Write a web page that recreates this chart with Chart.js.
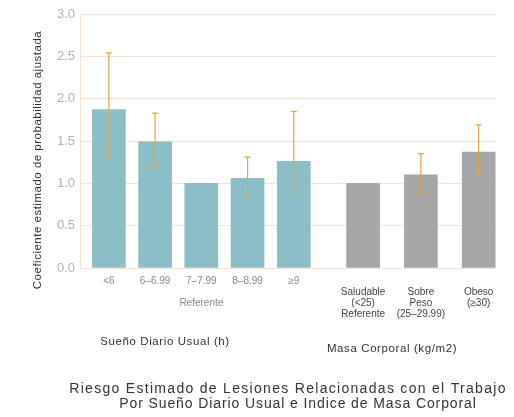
<!DOCTYPE html>
<html>
<head>
<meta charset="utf-8">
<script src="https://cdn.jsdelivr.net/npm/chart.js@4/dist/chart.umd.min.js"></script>
<style>
    body { margin: 0; background: #fff; }
    canvas { display: block; }
</style>
</head>
<body>
<canvas id="chart" width="514" height="417"></canvas>
<script>
// sleep groups (h)
const sleepLabels = [['<6'], ['6–6.99'], ['7–7.99', '', 'Referente'], ['8–8.99'], ['≥9']];
const sleepOR = [1.87, 1.49, 1.00, 1.06, 1.26];
const sleepLow = [1.31, 1.20, null, 0.85, 0.88];
const sleepHigh = [2.54, 1.83, null, 1.31, 1.85];

// body mass groups (kg/m2)
const bmiLabels = [['Saludable', '(<25)', 'Referente'], ['Sobre', 'Peso', '(25–29.99)'], ['Obeso', '(≥30)']];
const bmiOR = [1.00, 1.10, 1.37];
const bmiLow = [null, 0.88, 1.10];
const bmiHigh = [null, 1.35, 1.69];

const yTicks = [0, 0.5, 1.0, 1.5, 2.0, 2.5, 3.0];

const yTitle = 'Coeficiente estimado de probabilidad ajustada';
const sleepGroup = 'Sueño Diario Usual (h)';
const bmiGroup = 'Masa Corporal (kg/m2)';
const titleLines = ['Riesgo Estimado de Lesiones Relacionadas con el Trabajo', 'Por Sueño Diario Usual e Indice de Masa Corporal'];

// layout: quarter-width slots on the category axis
const SLOT_COUNT = 36;
const sleepSlots = [2, 6, 10, 14, 18];
const bmiSlots = [24, 29, 34];

const TEAL = '#8bbec6';
const GREY = '#a6a6a6';
const FONT = "'Liberation Sans', Arial, sans-serif";

const labels = new Array(SLOT_COUNT).fill('');
const values = new Array(SLOT_COUNT).fill(null);
const colors = new Array(SLOT_COUNT).fill(TEAL);
const errLow = new Array(SLOT_COUNT).fill(null);
const errHigh = new Array(SLOT_COUNT).fill(null);

sleepSlots.forEach((s, i) => {
    labels[s] = sleepLabels[i];
    values[s] = sleepOR[i];
    errLow[s] = sleepLow[i];
    errHigh[s] = sleepHigh[i];
});
bmiSlots.forEach((s, i) => {
    labels[s] = [''].concat(bmiLabels[i]);
    values[s] = bmiOR[i];
    colors[s] = GREY;
    errLow[s] = bmiLow[i];
    errHigh[s] = bmiHigh[i];
});

const errorBars = {
    id: 'errorBars',
    afterDatasetsDraw(chart) {
        const ctx = chart.ctx;
        const y = chart.scales.y;
        const meta = chart.getDatasetMeta(0);
        ctx.save();
        ctx.strokeStyle = '#e3a444';
        ctx.lineWidth = 1.2;
        meta.data.forEach((bar, i) => {
            if (errLow[i] == null) return;
            const top = y.getPixelForValue(errHigh[i]);
            const bottom = y.getPixelForValue(errLow[i]);
            ctx.beginPath();
            ctx.moveTo(bar.x, top);
            ctx.lineTo(bar.x, bottom);
            ctx.moveTo(bar.x - 3, top);
            ctx.lineTo(bar.x + 3, top);
            ctx.moveTo(bar.x - 3, bottom);
            ctx.lineTo(bar.x + 3, bottom);
            ctx.stroke();
        });
        ctx.restore();
    }
};

const extraText = {
    id: 'extraText',
    afterDraw(chart) {
        const ctx = chart.ctx;
        ctx.save();
        ctx.fillStyle = '#333';
        ctx.textAlign = 'center';
        ctx.textBaseline = 'middle';

        ctx.font = '11.5px ' + FONT;
        ctx.letterSpacing = '0.5px';
        ctx.save();
        ctx.translate(38, 160);
        ctx.rotate(-Math.PI / 2);
        ctx.fillText(yTitle, 0, 0);
        ctx.restore();

        ctx.font = '11.5px ' + FONT;
        ctx.letterSpacing = '0.6px';
        ctx.fillText(sleepGroup, 165, 342);
        ctx.fillText(bmiGroup, 392, 349);

        ctx.font = '14px ' + FONT;
        ctx.letterSpacing = '1.3px';
        ctx.fillText(titleLines[0], 288, 389);
        ctx.letterSpacing = '0.9px';
        ctx.fillText(titleLines[1], 298, 404);
        ctx.restore();
    }
};

new Chart(document.getElementById('chart'), {
    type: 'bar',
    data: {
        labels,
        datasets: [{
            data: values,
            backgroundColor: colors,
            barThickness: 33
        }]
    },
    options: {
        responsive: false,
        animation: false,
        devicePixelRatio: 1,
        layout: { padding: { top: 14, right: 18, left: 0, bottom: 0 } },
        plugins: {
            legend: { display: false },
            tooltip: { enabled: false }
        },
        scales: {
            x: {
                grid: { display: false },
                border: { display: false },
                ticks: {
                    autoSkip: false,
                    maxRotation: 0,
                    minRotation: 0,
                    padding: 0,
                    font: { family: FONT, size: 10, lineHeight: 1.08 },
                    color: c => c.index >= bmiSlots[0] ? '#444' : '#888'
                },
                afterFit: s => { s.height = 149; }
            },
            y: {
                min: yTicks[0],
                max: yTicks[yTicks.length - 1],
                afterBuildTicks: s => { s.ticks = yTicks.map(v => ({ value: v })); },
                grid: { color: '#f8e2d2', drawTicks: false },
                border: { color: '#f8e2d2' },
                ticks: {
                    padding: 5,
                    font: { family: FONT, size: 13 },
                    color: '#b0b0b0',
                    callback: v => v.toFixed(1)
                },
                afterFit: s => { s.width = 80; }
            }
        }
    },
    plugins: [errorBars, extraText]
});
</script>
</body>
</html>
